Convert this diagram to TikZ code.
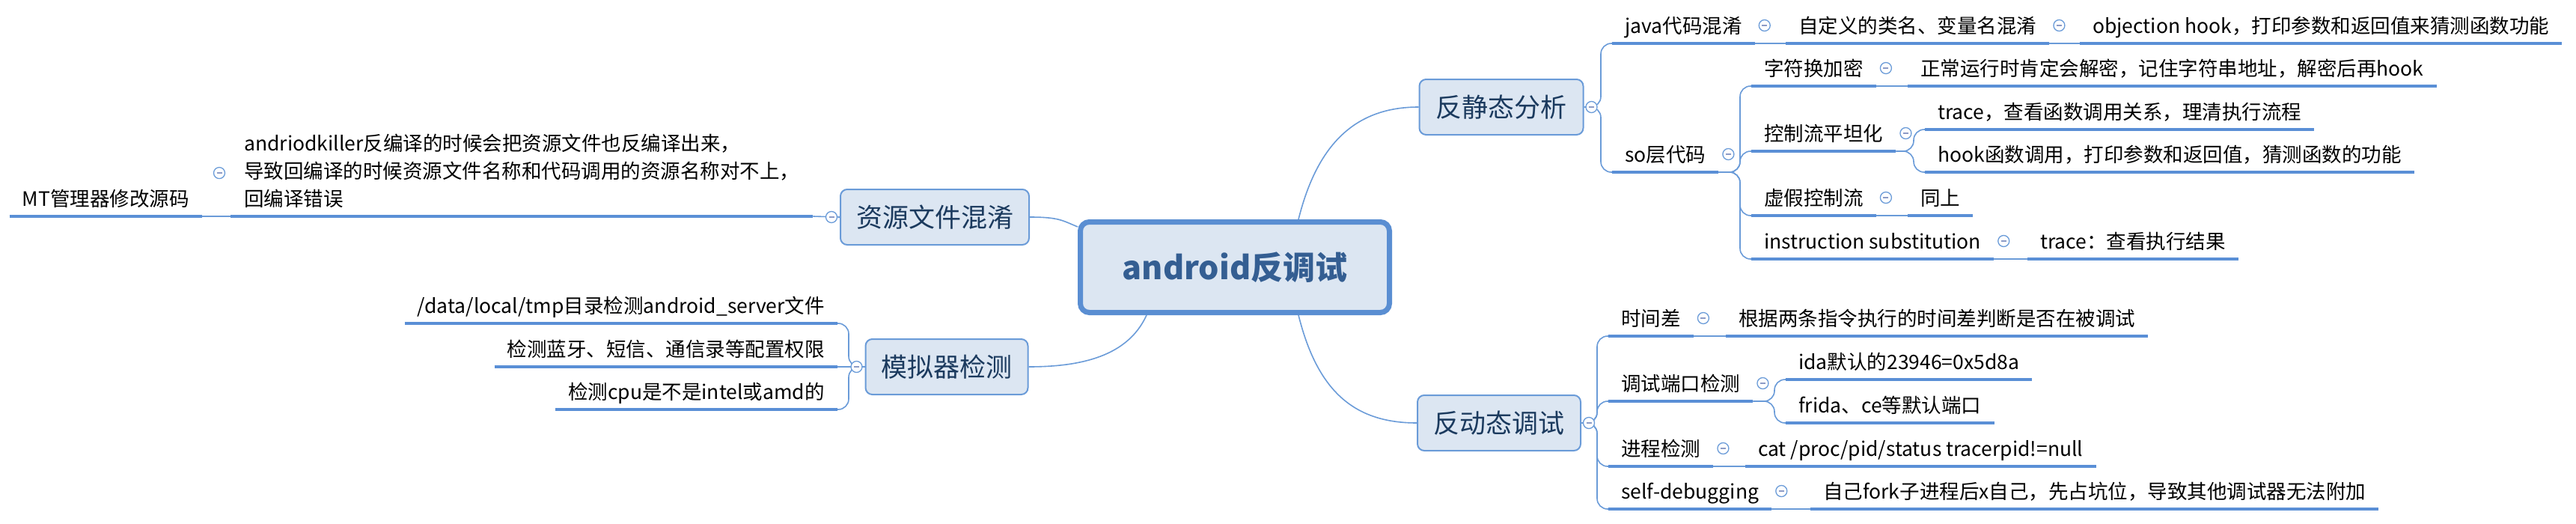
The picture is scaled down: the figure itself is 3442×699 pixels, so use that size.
\documentclass[tikz,border=0pt]{standalone}
\usepackage{fontspec}
\setmainfont{Noto Sans CJK SC}
\usetikzlibrary{calc}

\definecolor{boxfill}{HTML}{DCE6F2}
\definecolor{boxline}{HTML}{6A9BD8}
\definecolor{hubline}{HTML}{5A8ED2}
\definecolor{hubtext}{HTML}{345E92}
\definecolor{branchtext}{HTML}{1B3A5E}
\definecolor{ulblue}{HTML}{5A8FD6}
\definecolor{linkblue}{HTML}{6A9BD8}
\definecolor{minusgrey}{HTML}{8C9BC6}

\tikzset{
  hub/.style={draw=hubline, line width=7pt, fill=boxfill, rounded corners=12pt,
    minimum width=413pt, minimum height=121pt, inner sep=0pt, text=hubtext,
    font=\fontsize{43}{50}\selectfont\bfseries},
  branch/.style={draw=boxline, line width=2pt, fill=boxfill, rounded corners=9pt,
    minimum height=74pt, inner sep=0pt, text=branchtext,
    font=\fontsize{35}{40}\selectfont},
  leafr/.style={anchor=south west, inner xsep=17pt, inner ysep=6pt, text depth=7pt,
    font=\fontsize{26.5}{37}\selectfont},
  leafl/.style={leafr, anchor=south east},
  uline/.style={draw=ulblue, line width=4pt},
  conn/.style={draw=linkblue, line width=1.6pt},
  fork/.style={conn, rounded corners=14pt},
  toggle/.style={circle, draw=linkblue, line width=1.3pt, fill=white,
    minimum size=15pt, inner sep=0pt,
    path picture={\draw[line width=1.2pt, draw=minusgrey]
      ([xshift=-3.5pt]path picture bounding box.center) --
      ([xshift=3.5pt]path picture bounding box.center);}},
}

\begin{document}
\begin{tikzpicture}[x=1pt, y=-1pt]
  \useasboundingbox (0,0) rectangle (3442,699);

  % centre and main branches
  \node[hub] (hub) at (1650,357) {android反调试};
  \node[branch, minimum width=219pt] (fjt) at (2006,143) {反静态分析};
  \node[branch, minimum width=218pt] (fdt) at (2003,565) {反动态调试};
  \node[branch, minimum width=252pt] (zyhx) at (1249,290) {资源文件混淆};
  \node[branch, minimum width=217pt] (mnq) at (1265,490) {模拟器检测};

  \draw[conn] ([xshift=85pt]hub.north) .. controls +(25,-100) and +(-85,0) .. (fjt.west);
  \draw[conn] ([xshift=85pt]hub.south) .. controls +(25,100) and +(-85,0) .. (fdt.west);
  \draw[conn] (zyhx.east) .. controls +(40,0) and +(-20,-8) .. ([yshift=54pt]hub.west);
  \draw[conn] (mnq.east) .. controls +(70,0) and +(-25,55) .. ([xshift=-118pt]hub.south);

  % 反静态分析
  \node[leafr] (java) at (2154,58) {java代码混淆};
  \node[leafr] (zdy) at (2386,58) {自定义的类名、变量名混淆};
  \node[leafr] (obj) at (2779,58) {objection hook，打印参数和返回值来猜测函数功能};
  \node[leafr] (so) at (2154,230) {so层代码};
  \node[leafr] (zfh) at (2340,115) {字符换加密};
  \node[leafr] (zcyx) at (2549,115) {正常运行时肯定会解密，记住字符串地址，解密后再hook};
  \node[leafr] (kzl) at (2340,202) {控制流平坦化};
  \node[leafr] (trace1) at (2572,173) {trace，查看函数调用关系，理清执行流程};
  \node[leafr] (hook1) at (2572,230) {hook函数调用，打印参数和返回值，猜测函数的功能};
  \node[leafr] (xjkz) at (2340,288) {虚假控制流};
  \node[leafr] (ts) at (2549,288) {同上};
  \node[leafr] (ins) at (2340,346) {instruction substitution};
  \node[leafr] (trace2) at (2709,346) {trace：查看执行结果};

  % 反动态调试
  \node[leafr] (sjc) at (2149,449) {时间差};
  \node[leafr] (gj) at (2306,449) {根据两条指令执行的时间差判断是否在被调试};
  \node[leafr] (dk) at (2149,536) {调试端口检测};
  \node[leafr] (ida) at (2386,507) {ida默认的23946=0x5d8a};
  \node[leafr] (frida) at (2386,565) {frida、ce等默认端口};
  \node[leafr] (jc) at (2149,623) {进程检测};
  \node[leafr] (cat) at (2332,623) {cat /proc/pid/status tracerpid!=null};
  \node[leafr] (selfd) at (2149,680) {self-debugging};
  \node[leafr] (zjfork) at (2419,680) {自己fork子进程后x自己，先占坑位，导致其他调试器无法附加};

  % 左侧
  \node[leafr, text width=742pt, align=left, inner xsep=18pt, text depth=81pt]
    (zyleaf) at (308,289)
    {andriodkiller反编译的时候会把资源文件也反编译出来，\\
     导致回编译的时候资源文件名称和代码调用的资源名称对不上，\\
     回编译错误};
  \node[leafl] (mt) at (270,289) {MT管理器修改源码};
  \node[leafl] (data) at (1119,432) {/data/local/tmp目录检测android\_server文件};
  \node[leafl] (perm) at (1119,490) {检测蓝牙、短信、通信录等配置权限};
  \node[leafl] (cpu) at (1119,547) {检测cpu是不是intel或amd的};

  % connectors
  \foreach \c in {java,so}
    \draw[fork] (fjt.east) -| ([xshift=-15pt]\c.south west) -- (\c.south west);
  \draw[conn] (java.south east) -- (zdy.south west);
  \draw[conn] (zdy.south east) -- (obj.south west);
  \foreach \c in {zfh,kzl,xjkz,ins}
    \draw[fork] (so.south east) -| ([xshift=-15pt]\c.south west) -- (\c.south west);
  \draw[conn] (zfh.south east) -- (zcyx.south west);
  \foreach \c in {trace1,hook1}
    \draw[fork] (kzl.south east) -| ([xshift=-15pt]\c.south west) -- (\c.south west);
  \draw[conn] (xjkz.south east) -- (ts.south west);
  \draw[conn] (ins.south east) -- (trace2.south west);

  \foreach \c in {sjc,dk,jc,selfd}
    \draw[fork] (fdt.east) -| ([xshift=-15pt]\c.south west) -- (\c.south west);
  \draw[conn] (sjc.south east) -- (gj.south west);
  \foreach \c in {ida,frida}
    \draw[fork] (dk.south east) -| ([xshift=-15pt]\c.south west) -- (\c.south west);
  \draw[conn] (jc.south east) -- (cat.south west);
  \draw[conn] (selfd.south east) -- (zjfork.south west);

  \draw[conn] (zyhx.west) -- (zyleaf.south east);
  \draw[conn] (zyleaf.south west) -- (mt.south east);
  \foreach \c in {data,cpu}
    \draw[fork] (mnq.west) -| ([xshift=15pt]\c.south east) -- (\c.south east);
  \draw[conn] (mnq.west) -- (perm.south east);

  % underlines
  \foreach \n in {java,zdy,obj,so,zfh,zcyx,kzl,trace1,hook1,xjkz,ts,ins,trace2,
                  sjc,gj,dk,ida,frida,jc,cat,selfd,zjfork,zyleaf,mt,data,perm,cpu}
    \draw[uline] (\n.south west) -- (\n.south east);

  % toggles
  \foreach \n in {fjt,fdt}
    \node[toggle] (tg-\n) at ([xshift=10pt]\n.east) {};
  \foreach \n in {zyhx,mnq}
    \node[toggle] (tg-\n) at ([xshift=-11pt]\n.west) {};
  \foreach \n in {java,zdy,so,zfh,kzl,xjkz,ins,sjc,dk,jc,selfd}
    \node[toggle] (tg-\n) at ([xshift=13pt,yshift=24pt]\n.south east) {};
  \node[toggle] (tg-zyleaf) at ([xshift=-15pt]zyleaf.west) {};
\end{tikzpicture}
\end{document}
